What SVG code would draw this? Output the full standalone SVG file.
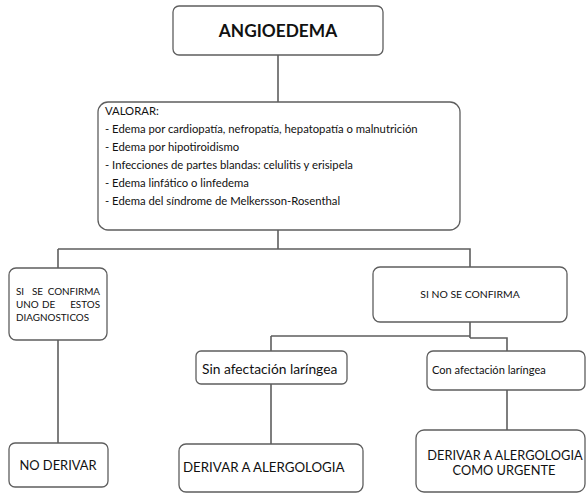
<svg xmlns="http://www.w3.org/2000/svg" width="587" height="494" viewBox="0 0 587 494">
<style>
.box{fill:#fff;stroke:#5e5e5e;stroke-width:1.3}
.conn{fill:none;stroke:#5e5e5e;stroke-width:1.6}
text{font-family:Lato,"Liberation Sans",sans-serif;fill:#111}
.tv{font-size:11.3px}
</style>
<rect width="587" height="494" fill="#fff"/>
<g id="connectors">
<path class="conn" d="M278 55V102"/>
<path class="conn" d="M278 230V249M58 249H470V267M58 249V268"/>
<path class="conn" d="M58 340V443"/>
<path class="conn" d="M470 322V338M271 336H470M271 336V351M470 338H507V351"/>
<path class="conn" d="M271 384V444"/>
<path class="conn" d="M507 390V430"/>
</g>
<g id="n-angioedema">
<rect class="box" x="173" y="6" width="210" height="49" rx="6"/>
<text x="278" y="37" text-anchor="middle" font-size="17.3" font-weight="bold">ANGIOEDEMA</text>
</g>
<g id="n-valorar">
<rect class="box" x="98" y="102" width="362" height="128" rx="10"/>
<text class="tv" x="105" y="115">VALORAR:</text>
<text class="tv" x="105" y="133">- Edema por cardiopatía, nefropatía, hepatopatía o malnutrición</text>
<text class="tv" x="105" y="151">- Edema por hipotiroidismo</text>
<text class="tv" x="105" y="169">- Infecciones de partes blandas: celulitis y erisipela</text>
<text class="tv" x="105" y="187">- Edema linfático o linfedema</text>
<text class="tv" x="105" y="205">- Edema del síndrome de Melkersson-Rosenthal</text>
</g>
<g id="n-si-confirma">
<rect class="box" x="9" y="268" width="98" height="72" rx="7"/>
<text font-size="9.9"><tspan x="16" y="295">SI</tspan><tspan x="32" y="295">SE</tspan><tspan x="100" y="295" text-anchor="end">CONFIRMA</tspan><tspan x="16" y="308">UNO</tspan><tspan x="42" y="308">DE</tspan><tspan x="100" y="308" text-anchor="end">ESTOS</tspan><tspan x="16" y="321">DIAGNOSTICOS</tspan></text>
</g>
<g id="n-no-confirma">
<rect class="box" x="373" y="267" width="194" height="55" rx="7"/>
<text x="470" y="298" text-anchor="middle" font-size="10.4">SI NO SE CONFIRMA</text>
</g>
<g id="n-sin">
<rect class="box" x="196" y="351" width="151" height="33" rx="5"/>
<text x="202" y="374" font-size="13.8">Sin afectación laríngea</text>
</g>
<g id="n-con">
<rect class="box" x="427" y="351" width="158" height="39" rx="6"/>
<text x="432" y="374" font-size="11.1">Con afectación laríngea</text>
</g>
<g id="n-no-derivar">
<rect class="box" x="9" y="443" width="99" height="44" rx="6"/>
<text x="58" y="470" text-anchor="middle" font-size="12.9">NO DERIVAR</text>
</g>
<g id="n-derivar">
<rect class="box" x="179" y="444" width="184" height="48" rx="7"/>
<text x="183" y="472" font-size="13.3">DERIVAR A ALERGOLOGIA</text>
</g>
<g id="n-derivar-urgente">
<rect class="box" x="416" y="430" width="169" height="62" rx="8"/>
<text x="505" y="460" text-anchor="middle" font-size="12.8">DERIVAR A ALERGOLOGIA</text>
<text x="504" y="475" text-anchor="middle" font-size="12.8">COMO URGENTE</text>
</g>
</svg>
